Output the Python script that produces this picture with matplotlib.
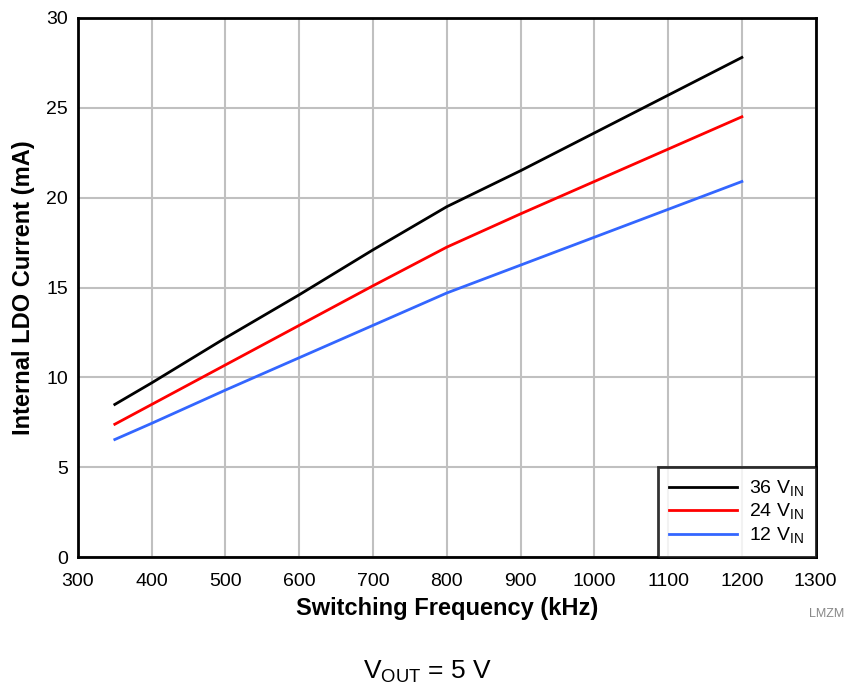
import matplotlib

matplotlib.use("Agg")

import matplotlib.pyplot as plt

plt.rcParams["font.family"] = ["Liberation Sans", "DejaVu Sans"]

freq_khz = [350, 400, 500, 600, 700, 800, 900, 1000, 1100, 1200]
ldo_36v = [8.5, 9.7, 12.2, 14.6, 17.1, 19.5, 21.5, 23.6, 25.7, 27.8]
ldo_24v = [7.4, 8.5, 10.7, 12.9, 15.1, 17.25, 19.1, 20.9, 22.7, 24.5]
ldo_12v = [6.55, 7.45, 9.3, 11.1, 12.9, 14.7, 16.25, 17.8, 19.35, 20.9]

fig = plt.figure(figsize=(8.47, 6.88), dpi=100)
ax = fig.add_axes([0.092, 0.19, 0.871, 0.784])

ax.plot(freq_khz, ldo_36v, color="black", linewidth=2, label=r"36 V$_{\mathregular{IN}}$")
ax.plot(freq_khz, ldo_24v, color="#ff0000", linewidth=2, label=r"24 V$_{\mathregular{IN}}$")
ax.plot(freq_khz, ldo_12v, color="#3366ff", linewidth=2, label=r"12 V$_{\mathregular{IN}}$")

ax.set_xlim(300, 1300)
ax.set_ylim(0, 30)
ax.set_xticks(range(300, 1301, 100))
ax.set_yticks(range(0, 31, 5))
ax.grid(True, color="#c0c0c0", linewidth=1.5)
ax.set_axisbelow(True)
for spine in ax.spines.values():
    spine.set_linewidth(2)
ax.tick_params(labelsize=14, length=0)
ax.tick_params(axis="x", pad=11)
ax.tick_params(axis="y", pad=7)
ax.set_xlabel("Switching Frequency (kHz)", fontsize=17, fontweight="bold", labelpad=5)
ax.set_ylabel("Internal LDO Current (mA)", fontsize=17, fontweight="bold", labelpad=8)

leg = ax.legend(loc="lower right", fontsize=14, frameon=True, fancybox=False,
                borderaxespad=0, handlelength=3.5, handletextpad=0.6,
                labelspacing=0.15, borderpad=0.6)
leg.get_frame().set_edgecolor("black")
leg.get_frame().set_linewidth(2)

fig.text(0.997, 0.107, "LMZM", fontsize=9, color="#888888", ha="right", va="center")
fig.text(0.505, 0.004, r"V$_{\mathregular{OUT}}$ = 5 V", fontsize=19, ha="center", va="bottom")

fig.savefig("out.png", dpi=100)
